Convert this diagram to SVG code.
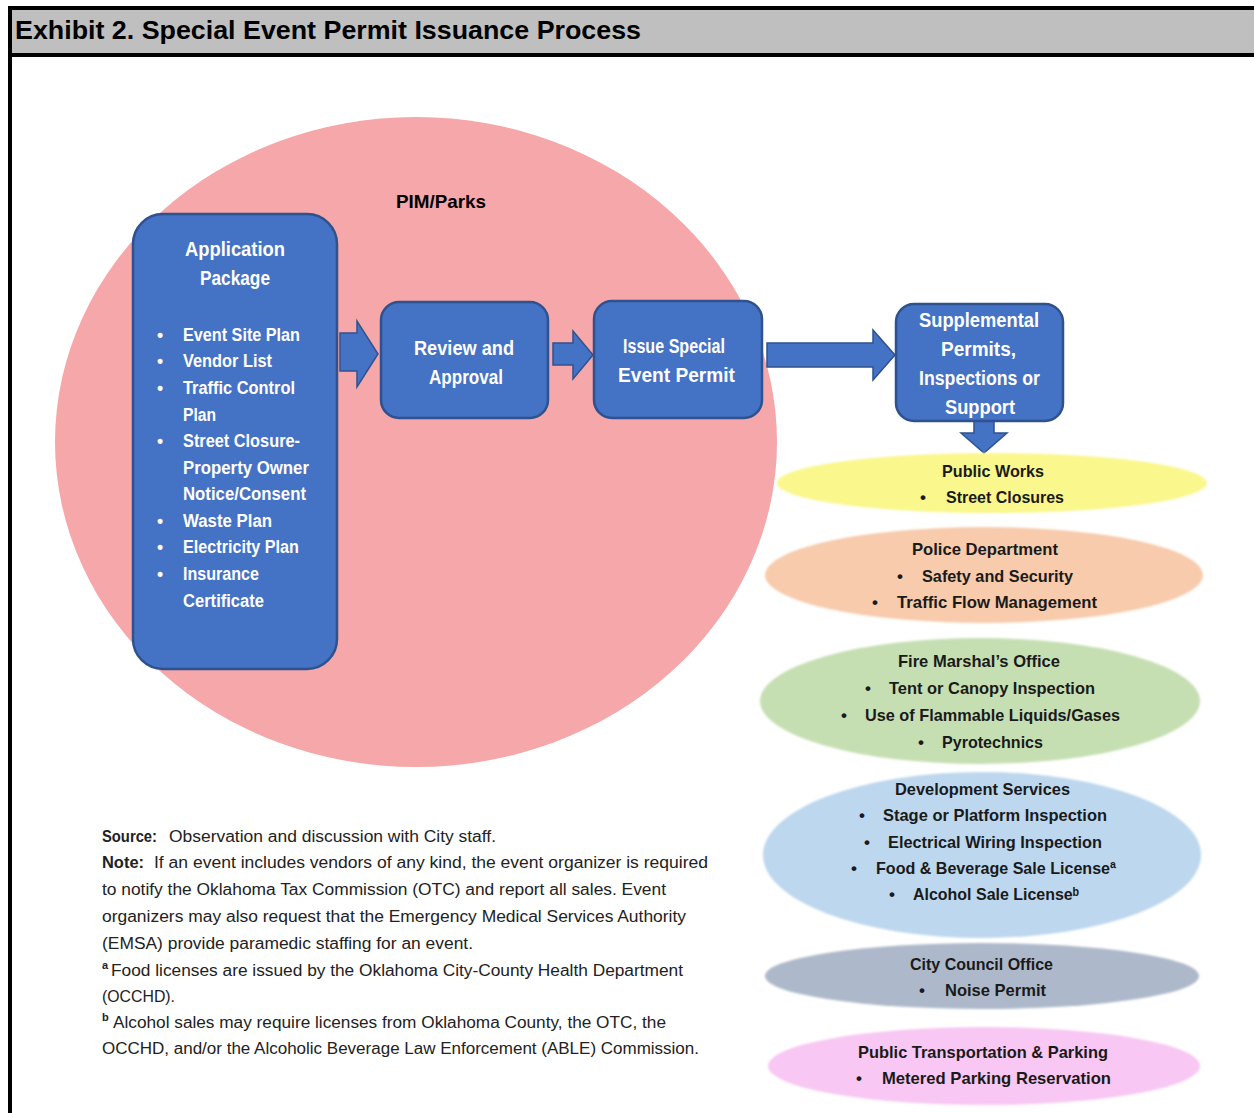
<svg xmlns="http://www.w3.org/2000/svg" width="1254" height="1113" viewBox="0 0 1254 1113">
  <style>
    .sans { font-family: "Liberation Sans", Arial, sans-serif; }
    .box { fill: #4472C4; stroke: #2F528F; stroke-width: 2.5; }
    .arrow { fill: #4472C4; stroke: #2F528F; stroke-width: 1.5; stroke-linejoin: miter; }
    .wt { fill: #ffffff; font-family: "Liberation Sans", Arial, sans-serif; font-weight: bold; }
    .t-title { font-size: 19.5px; }
    .t-item { font-size: 17.5px; }
    .dk { fill: #1a1a1a; font-family: "Liberation Sans", "DejaVu Sans", Arial, sans-serif; font-weight: bold; font-size: 17px; }
    .note { fill: #222222; font-family: "Liberation Sans", Arial, sans-serif; font-size: 16px; }
    .noteb { font-weight: bold; }
  </style>
  <defs>
    <filter id="soft" x="-5%" y="-10%" width="110%" height="120%">
      <feGaussianBlur stdDeviation="1.3"/>
    </filter>
  </defs>

  <rect x="0" y="0" width="1254" height="1113" fill="#ffffff"/>

  <!-- exhibit frame and title bar -->
  <g id="frame">
    <rect x="8" y="8" width="1250" height="47" fill="#BFBFBF"/>
    <rect x="8" y="6" width="1250" height="4" fill="#000000"/>
    <rect x="8" y="53" width="1250" height="4" fill="#000000"/>
    <rect x="8" y="6" width="4" height="1107" fill="#000000"/>
    <text class="sans" x="15" y="39" font-size="25" font-weight="bold" fill="#000" textLength="626" lengthAdjust="spacingAndGlyphs">Exhibit 2. Special Event Permit Issuance Process</text>
  </g>

  <!-- PIM/Parks area -->
  <g id="pim-parks">
    <ellipse cx="416" cy="442" rx="361" ry="325" fill="#F5A7A9"/>
    <text class="sans" x="396" y="208" font-size="18.5" font-weight="bold" fill="#000" textLength="90" lengthAdjust="spacingAndGlyphs">PIM/Parks</text>
  </g>

  <!-- connectors -->
  <g id="connectors">
    <polygon class="arrow" points="340,333 357,333 357,321 378,354 357,387 357,371 340,371"/>
    <polygon class="arrow" points="553,343 573,343 573,331 593,355 573,379 573,365 553,365"/>
    <polygon class="arrow" points="767,343 873,343 873,330 895,355 873,380 873,367 767,367"/>
    <polygon class="arrow" points="974,421 994,421 994,433 1007,433 984,453 961,433 974,433"/>
  </g>

  <!-- Application Package -->
  <g id="application-package">
    <rect class="box" x="133" y="214" width="204" height="455" rx="30"/>
    <text class="wt t-title" x="185" y="256" textLength="100" lengthAdjust="spacingAndGlyphs">Application</text>
    <text class="wt t-title" x="200" y="285" textLength="70" lengthAdjust="spacingAndGlyphs">Package</text>
    <g class="wt t-item">
      <text x="157" y="341">•</text>
      <text x="183" y="341" textLength="117" lengthAdjust="spacingAndGlyphs">Event Site Plan</text>
      <text x="157" y="367">•</text>
      <text x="183" y="367" textLength="89" lengthAdjust="spacingAndGlyphs">Vendor List</text>
      <text x="157" y="394">•</text>
      <text x="183" y="394" textLength="112" lengthAdjust="spacingAndGlyphs">Traffic Control</text>
      <text x="183" y="421" textLength="33" lengthAdjust="spacingAndGlyphs">Plan</text>
      <text x="157" y="447">•</text>
      <text x="183" y="447" textLength="117" lengthAdjust="spacingAndGlyphs">Street Closure-</text>
      <text x="183" y="474" textLength="126" lengthAdjust="spacingAndGlyphs">Property Owner</text>
      <text x="183" y="500" textLength="123" lengthAdjust="spacingAndGlyphs">Notice/Consent</text>
      <text x="157" y="527">•</text>
      <text x="183" y="527" textLength="89" lengthAdjust="spacingAndGlyphs">Waste Plan</text>
      <text x="157" y="553">•</text>
      <text x="183" y="553" textLength="116" lengthAdjust="spacingAndGlyphs">Electricity Plan</text>
      <text x="157" y="580">•</text>
      <text x="183" y="580" textLength="76" lengthAdjust="spacingAndGlyphs">Insurance</text>
      <text x="183" y="607" textLength="81" lengthAdjust="spacingAndGlyphs">Certificate</text>
    </g>
  </g>

  <!-- Review and Approval -->
  <g id="review-approval">
    <rect class="box" x="381" y="302" width="167" height="116" rx="18"/>
    <text class="wt t-title" x="414" y="355" textLength="100" lengthAdjust="spacingAndGlyphs">Review and</text>
    <text class="wt t-title" x="429" y="384" textLength="74" lengthAdjust="spacingAndGlyphs">Approval</text>
  </g>

  <!-- Issue Special Event Permit -->
  <g id="issue-permit">
    <rect class="box" x="594" y="301" width="168" height="117" rx="18"/>
    <text class="wt t-title" x="623" y="353" textLength="102" lengthAdjust="spacingAndGlyphs">Issue Special</text>
    <text class="wt t-title" x="618" y="382" textLength="117" lengthAdjust="spacingAndGlyphs">Event Permit</text>
  </g>

  <!-- Supplemental Permits -->
  <g id="supplemental">
    <rect class="box" x="896" y="304" width="167" height="117" rx="18"/>
    <text class="wt t-title" x="919" y="327" textLength="120" lengthAdjust="spacingAndGlyphs">Supplemental</text>
    <text class="wt t-title" x="941" y="356" textLength="75" lengthAdjust="spacingAndGlyphs">Permits,</text>
    <text class="wt t-title" x="919" y="385" textLength="121" lengthAdjust="spacingAndGlyphs">Inspections or</text>
    <text class="wt t-title" x="945" y="414" textLength="70" lengthAdjust="spacingAndGlyphs">Support</text>
  </g>

  <!-- Public Works -->
  <g id="public-works">
    <ellipse cx="992" cy="483" rx="215" ry="30" fill="#FAF78D" filter="url(#soft)"/>
    <text class="dk" x="942" y="477" textLength="102" lengthAdjust="spacingAndGlyphs">Public Works</text>
    <text class="dk" x="920" y="503">•</text>
    <text class="dk" x="946" y="503" textLength="118" lengthAdjust="spacingAndGlyphs">Street Closures</text>
  </g>

  <!-- Police Department -->
  <g id="police">
    <ellipse cx="984" cy="575" rx="219" ry="48" fill="#F7CBAC" filter="url(#soft)"/>
    <text class="dk" x="912" y="555" textLength="146" lengthAdjust="spacingAndGlyphs">Police Department</text>
    <text class="dk" x="897" y="582">•</text>
    <text class="dk" x="922" y="582" textLength="151" lengthAdjust="spacingAndGlyphs">Safety and Security</text>
    <text class="dk" x="872" y="608">•</text>
    <text class="dk" x="897" y="608" textLength="200" lengthAdjust="spacingAndGlyphs">Traffic Flow Management</text>
  </g>

  <!-- Fire Marshal's Office -->
  <g id="fire-marshal">
    <ellipse cx="980" cy="701" rx="220" ry="63" fill="#C6DFB2" filter="url(#soft)"/>
    <text class="dk" x="898" y="667" textLength="162" lengthAdjust="spacingAndGlyphs">Fire Marshal’s Office</text>
    <text class="dk" x="865" y="694">•</text>
    <text class="dk" x="889" y="694" textLength="206" lengthAdjust="spacingAndGlyphs">Tent or Canopy Inspection</text>
    <text class="dk" x="841" y="721">•</text>
    <text class="dk" x="865" y="721" textLength="255" lengthAdjust="spacingAndGlyphs">Use of Flammable Liquids/Gases</text>
    <text class="dk" x="918" y="748">•</text>
    <text class="dk" x="942" y="748" textLength="101" lengthAdjust="spacingAndGlyphs">Pyrotechnics</text>
  </g>

  <!-- Development Services -->
  <g id="development-services">
    <ellipse cx="982" cy="855" rx="219" ry="83" fill="#BDD7EE" filter="url(#soft)"/>
    <text class="dk" x="895" y="795" textLength="175" lengthAdjust="spacingAndGlyphs">Development Services</text>
    <text class="dk" x="859" y="821">•</text>
    <text class="dk" x="883" y="821" textLength="224" lengthAdjust="spacingAndGlyphs">Stage or Platform Inspection</text>
    <text class="dk" x="864" y="848">•</text>
    <text class="dk" x="888" y="848" textLength="214" lengthAdjust="spacingAndGlyphs">Electrical Wiring Inspection</text>
    <text class="dk" x="851" y="874">•</text>
    <text class="dk" x="876" y="874" textLength="240" lengthAdjust="spacingAndGlyphs">Food &amp; Beverage Sale Licenseª</text>
    <text class="dk" x="889" y="900">•</text>
    <text class="dk" x="913" y="900" textLength="166" lengthAdjust="spacingAndGlyphs">Alcohol Sale Licenseᵇ</text>
  </g>

  <!-- City Council Office -->
  <g id="city-council">
    <ellipse cx="982" cy="976" rx="217" ry="33" fill="#ADB9CA" filter="url(#soft)"/>
    <text class="dk" x="910" y="970" textLength="143" lengthAdjust="spacingAndGlyphs">City Council Office</text>
    <text class="dk" x="919" y="996">•</text>
    <text class="dk" x="945" y="996" textLength="101" lengthAdjust="spacingAndGlyphs">Noise Permit</text>
  </g>

  <!-- Public Transportation & Parking -->
  <g id="transportation-parking">
    <ellipse cx="984" cy="1066" rx="216" ry="39" fill="#F8C7F3" filter="url(#soft)"/>
    <text class="dk" x="858" y="1058" textLength="250" lengthAdjust="spacingAndGlyphs">Public Transportation &amp; Parking</text>
    <text class="dk" x="856" y="1084">•</text>
    <text class="dk" x="882" y="1084" textLength="229" lengthAdjust="spacingAndGlyphs">Metered Parking Reservation</text>
  </g>

  <!-- source and notes -->
  <g id="notes" class="note">
    <text class="noteb" x="102" y="842" textLength="55" lengthAdjust="spacingAndGlyphs">Source:</text>
    <text x="169" y="842" textLength="327" lengthAdjust="spacingAndGlyphs">Observation and discussion with City staff.</text>
    <text class="noteb" x="102" y="868" textLength="42" lengthAdjust="spacingAndGlyphs">Note:</text>
    <text x="154" y="868" textLength="554" lengthAdjust="spacingAndGlyphs">If an event includes vendors of any kind, the event organizer is required</text>
    <text x="102" y="895" textLength="564" lengthAdjust="spacingAndGlyphs">to notify the Oklahoma Tax Commission (OTC) and report all sales.  Event</text>
    <text x="102" y="922" textLength="584" lengthAdjust="spacingAndGlyphs">organizers may also request that the Emergency Medical Services Authority</text>
    <text x="102" y="949" textLength="371" lengthAdjust="spacingAndGlyphs">(EMSA) provide paramedic staffing for an event.</text>
    <text class="noteb" x="102" y="969" font-size="11">a</text>
    <text x="111" y="976" textLength="572" lengthAdjust="spacingAndGlyphs">Food licenses are issued by the Oklahoma City-County Health Department</text>
    <text x="102" y="1002" textLength="73" lengthAdjust="spacingAndGlyphs">(OCCHD).</text>
    <text class="noteb" x="102" y="1021" font-size="11">b</text>
    <text x="113" y="1028" textLength="553" lengthAdjust="spacingAndGlyphs">Alcohol sales may require licenses from Oklahoma County, the OTC, the</text>
    <text x="102" y="1054" textLength="597" lengthAdjust="spacingAndGlyphs">OCCHD, and/or the Alcoholic Beverage Law Enforcement (ABLE) Commission.</text>
  </g>
</svg>
